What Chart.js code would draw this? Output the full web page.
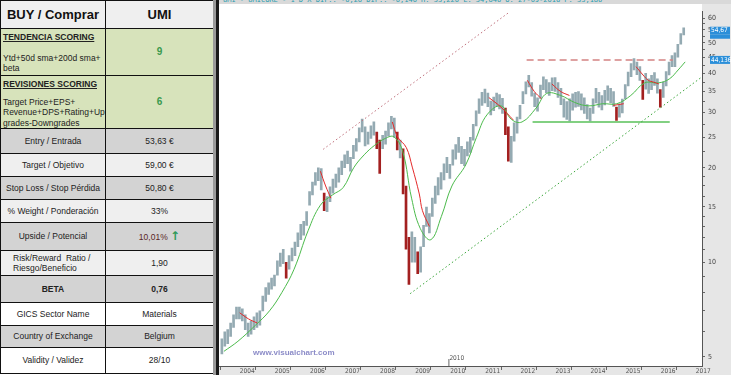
<!DOCTYPE html>
<html>
<head>
<meta charset="utf-8">
<script src="https://cdn.jsdelivr.net/npm/chart.js@4.4.0/dist/chart.umd.min.js"></script>
<style>
  html, body { margin: 0; padding: 0; background: #fff; }
  body { width: 731px; height: 375px; overflow: hidden; position: relative; font-family: "Liberation Sans", Arial, sans-serif; }
  #card { position: absolute; left: 0; top: 0; width: 213px; border-collapse: collapse; table-layout: fixed; }
  #card td { border: 1px solid #111; font-size: 8.5px; color: #222; text-align: center; padding: 0 2px; line-height: 1.2; overflow: hidden; }
  #card td.head { font-size: 13px; font-weight: bold; color: #111; background: #efefef; }
  #card td.score { text-align: left; vertical-align: top; padding-top: 3px; }
  #card td.score b { text-decoration: underline; font-size: 8.5px; display: block; margin-bottom: 8px; }
  #card td.score b.first { margin-bottom: 11px; }
  #card td.num { color: #3a9a4e; font-weight: bold; font-size: 10px; }
  .green { background: #d7e3bb; }
  .grey { background: #d3d3d3; }
  .light { background: #efefef; }
  .white { background: #fff; }
  .bold { font-weight: bold; }
  #sep1 { position: absolute; left: 213px; top: 0; width: 3px; height: 375px; background: #9a9a9a; }
  #sep2 { position: absolute; left: 216px; top: 0; width: 3px; height: 375px; background: #1a1a1a; }
  #topbar { position: absolute; left: 219px; top: 0; width: 512px; height: 4px; background: #d9d9d9; overflow: hidden; }
  #topbar span { position: absolute; left: 4px; top: -4px; font-size: 7px; color: #2a9db0; white-space: nowrap; font-family: "DejaVu Sans Mono", monospace; }
  #wrap { position: absolute; left: 219px; top: 4px; width: 512px; height: 371px; }
</style>
</head>
<body>
<table id="card">
  <colgroup><col style="width:105px"><col style="width:108px"></colgroup>
  <tr style="height:28px"><td class="head">BUY / Comprar</td><td class="head">UMI</td></tr>
  <tr style="height:47px" class="green"><td class="score"><b class="first">TENDENCIA SCORING</b>Ytd+50d sma+200d sma+ beta</td><td class="num">9</td></tr>
  <tr style="height:53px" class="green"><td class="score"><b>REVISIONES SCORING</b>Target Price+EPS+ Revenue+DPS+Rating+Up grades-Downgrades</td><td class="num">6</td></tr>
  <tr style="height:25px" class="grey"><td>Entry / Entrada</td><td>53,63 €</td></tr>
  <tr style="height:23px" class="light"><td>Target / Objetivo</td><td>59,00 €</td></tr>
  <tr style="height:23px" class="grey"><td>Stop Loss / Stop Pérdida</td><td>50,80 €</td></tr>
  <tr style="height:23px" class="light"><td>% Weight / Ponderación</td><td>33%</td></tr>
  <tr style="height:28px" class="grey"><td>Upside / Potencial</td><td><span style="color:#5a2626">10,01%</span> <span style="color:#2f9a5a;font-size:12px;font-weight:bold;font-family:'DejaVu Sans',sans-serif">↑</span></td></tr>
  <tr style="height:25px" class="light"><td style="text-align:left;padding-left:12px">Risk/Reward&nbsp; Ratio /<br>Riesgo/Beneficio</td><td>1,90</td></tr>
  <tr style="height:27px" class="grey"><td class="bold">BETA</td><td class="bold">0,76</td></tr>
  <tr style="height:23px" class="white"><td>GICS Sector Name</td><td>Materials</td></tr>
  <tr style="height:22px" class="grey"><td>Country of Exchange</td><td>Belgium</td></tr>
  <tr style="height:26px" class="white"><td>Validity / Validez</td><td>28/10</td></tr>
</table>
<div id="sep1"></div><div id="sep2"></div>
<div id="topbar"><span>UMI - UMICORE - 1 D X DIF.: -0,26 DIF.: -0,140 H: 55,220 L: 54,640 O: 27-09-2016 P: 55,180</span></div>
<div id="wrap"><canvas id="chart" width="512" height="371"></canvas></div>

<script>
// Monthly price ranges, Jul 2003 .. Sep 2016
const firstYear = 2003;
const firstMonth = 7;

const monthlyLows = [
    5.1, 5.4, 5.5, 5.8, 6.2, 6.6,
    6.6, 6.5, 6.1, 5.8, 5.9, 6.1, 6.2, 6.3, 7.0, 7.5, 7.9, 8.2,
    8.4, 9.1, 9.7, 9.9, 8.9, 9.5, 10.1, 10.5, 11.2, 11.8, 12.2, 13.1,
    15.2, 16.4, 17.6, 18.2, 17.0, 14.6, 14.5, 15.6, 16.6, 17.3, 18.0, 19.0,
    20.0, 20.6, 19.5, 21.4, 22.6, 24.2, 26.0, 23.5, 23.8, 24.8, 25.4, 23.0,
    19.2, 23.0, 23.8, 25.2, 26.6, 25.0, 22.8, 21.5, 16.5, 11.0, 8.5, 10.0,
    10.0, 9.2, 9.3, 11.2, 13.0, 12.4, 14.0, 15.4, 16.4, 17.1, 18.3, 19.3,
    18.5, 20.4, 21.3, 22.4, 20.6, 20.3, 21.8, 22.4, 24.5, 27.2, 29.8, 31.6,
    32.2, 31.3, 29.5, 30.4, 31.4, 30.8, 29.8, 25.5, 21.0, 20.8, 24.3, 25.8,
    28.6, 32.0, 34.4, 36.2, 33.8, 31.3, 30.3, 33.3, 35.5, 34.7, 34.0, 35.2,
    35.0, 33.5, 31.8, 29.0, 28.5, 28.2, 30.5, 31.2, 31.4, 30.6, 29.8, 28.6,
    28.2, 29.8, 32.2, 31.2, 30.6, 31.7, 32.8, 32.2, 31.4, 28.3, 29.0, 29.9,
    33.2, 36.5, 39.0, 41.0, 39.6, 38.0, 33.0, 35.6, 34.5, 35.5, 36.6, 34.6,
    31.2, 33.5, 36.5, 39.5, 42.0, 42.0, 45.0, 49.5, 53.0
];

const monthlyHighs = [
    5.7, 6.0, 6.1, 6.4, 6.8, 7.2,
    7.2, 7.1, 6.8, 6.4, 6.5, 6.7, 6.9, 7.0, 7.8, 8.3, 8.6, 8.9,
    9.1, 10.1, 10.7, 11.0, 10.0, 10.5, 11.1, 11.6, 12.4, 13.2, 13.5, 14.5,
    16.8, 18.0, 19.3, 20.0, 19.9, 16.6, 16.2, 17.4, 18.4, 19.1, 20.0, 21.0,
    22.0, 22.6, 21.6, 23.6, 24.8, 26.8, 28.6, 27.0, 26.0, 27.2, 28.0, 26.0,
    24.5, 25.4, 26.2, 27.8, 29.2, 28.8, 26.0, 24.5, 23.0, 17.5, 12.0, 12.5,
    12.0, 10.8, 11.2, 13.1, 15.0, 14.3, 16.0, 17.5, 18.6, 19.3, 20.6, 21.6,
    20.5, 22.8, 23.7, 25.0, 23.4, 22.9, 24.2, 25.0, 27.5, 30.4, 33.2, 34.8,
    35.6, 34.6, 32.6, 33.6, 34.6, 34.2, 33.3, 31.0, 27.0, 25.2, 27.8, 29.0,
    31.6, 35.0, 37.6, 39.4, 37.4, 34.6, 33.4, 36.7, 39.0, 38.2, 37.4, 38.7,
    38.8, 37.4, 35.8, 33.2, 32.5, 33.2, 34.4, 34.8, 35.0, 34.4, 33.4, 31.8,
    31.0, 33.2, 35.8, 34.8, 34.0, 35.3, 36.5, 35.8, 35.0, 31.2, 32.0, 33.1,
    36.8, 40.4, 43.0, 44.6, 43.4, 42.0, 38.0, 40.0, 38.4, 39.4, 40.2, 38.4,
    35.5, 37.5, 40.5, 43.4, 45.6, 46.5, 49.5, 53.5, 55.8
];

// slow moving average (green)
const greenMaYears = [2003.6, 2004.0, 2004.5, 2004.9, 2005.25, 2005.6, 2006.0, 2006.35, 2006.7, 2007.0, 2007.3, 2007.6, 2007.9, 2008.2, 2008.45, 2008.7, 2008.95, 2009.2, 2009.5, 2009.8, 2010.1, 2010.5, 2010.8, 2011.1, 2011.5, 2011.8, 2012.1, 2012.5, 2012.8, 2013.2, 2013.6, 2014.0, 2014.4, 2014.8, 2015.2, 2015.6, 2016.0, 2016.3, 2016.55, 2016.75];
const greenMaValues = [5.2, 5.6, 6.3, 7.0, 8.0, 9.5, 12.6, 15.2, 16.4, 17.3, 20.0, 22.0, 23.6, 24.8, 25.1, 22.5, 16.0, 12.8, 11.8, 14.0, 17.5, 20.5, 25.0, 29.5, 31.5, 28.5, 28.0, 31.0, 34.5, 34.0, 32.3, 31.5, 32.0, 32.0, 34.0, 37.3, 37.3, 38.4, 41.0, 43.5];

// moving average shown in red while price is below it (null = hidden)
const redMaYears = [2004.05, 2004.3, 2004.55, 2004.6, 2006.35, 2006.5, 2006.65, 2006.7, 2008.4, 2008.55, 2008.8, 2008.97, 2009.17, 2009.26, 2009.46, 2009.5, 2011.15, 2011.5, 2011.85, 2011.9, 2012.25, 2012.45, 2012.65, 2012.7, 2012.95, 2013.2, 2013.45, 2013.5, 2014.7, 2015.0, 2015.1, 2015.35, 2015.55, 2015.7, 2015.85, 2016.0];
const redMaValues = [6.9, 6.6, 6.4, null, 19.5, 17.5, 16.0, null, 28.0, 25.1, 23.2, 20.1, 16.5, 14.6, 13.0, null, 33.5, 31.2, 28.4, null, 38.0, 35.0, 33.2, null, 37.0, 35.0, 34.0, null, 31.6, 32.0, null, 42.0, 39.5, 38.0, 37.5, 37.0];

// trend lines: [year, price] end points
const upperChannel = [[2006.43, 22.9], [2011.74, 62.7]];
const lowerChannel = [[2008.91, 7.94], [2017.26, 39.2]];
const resistance = [[2012.23, 44.1], [2016.4, 44.1]];
const support = [[2012.4, 28.0], [2016.31, 28.0]];

const priceTicks = [5, 10, 15, 20, 25, 30, 35, 40, 45, 50, 55, 60];
const minorTicks = [6, 7, 8, 9, 11, 12, 13, 14, 16.25, 17.5, 18.75, 22.5, 27.5, 32.5, 37.5, 42.5, 47.5, 52.5, 57.5];
const yearTicks = [2004, 2005, 2006, 2007, 2008, 2009, 2010, 2011, 2012, 2013, 2014, 2015, 2016, 2017];
const badges = [54.67, 44.136];

const barData = monthlyLows.map((lo, i) => ({
    x: firstYear + (firstMonth - 1 + i + 0.5) / 12,
    y: [lo, monthlyHighs[i]]
}));
const barColors = monthlyLows.map((lo, i) => {
    if (i === 0) return '#94aab2';
    const mid = (lo + monthlyHighs[i]) / 2;
    const prev = (monthlyLows[i - 1] + monthlyHighs[i - 1]) / 2;
    return mid < prev * 0.92 ? '#a32020' : '#94aab2';
});

function pairs(xs, ys) {
    return xs.map((x, i) => ({ x: x, y: ys[i] }));
}
function seg(p) {
    return p.map(d => ({ x: d[0], y: d[1] }));
}

const panelBg = {
    id: 'panelBg',
    beforeDraw(chart) {
        const { ctx, chartArea, width, height } = chart;
        ctx.save();
        ctx.fillStyle = '#fff';
        ctx.fillRect(0, 0, width, height);
        ctx.fillStyle = '#e6e6e6';
        ctx.fillRect(chartArea.right, 0, width - chartArea.right, height);
        ctx.fillRect(0, chartArea.bottom, width, height - chartArea.bottom);
        ctx.restore();
    },
    afterDraw(chart) {
        const { ctx, chartArea, scales } = chart;
        ctx.save();
        // watermark
        ctx.fillStyle = '#8c8cc8';
        ctx.font = 'bold 8px "Liberation Sans", Arial, sans-serif';
        ctx.textBaseline = 'middle';
        ctx.fillText('www.visualchart.com', 34, chartArea.bottom - 13);
        // small year marker above axis
        const x10 = scales.x.getPixelForValue(2010);
        ctx.strokeStyle = '#666';
        ctx.beginPath();
        ctx.moveTo(x10 + 0.5, chartArea.bottom - 7);
        ctx.lineTo(x10 + 0.5, chartArea.bottom);
        ctx.stroke();
        ctx.fillStyle = '#555';
        ctx.font = '6.5px "Liberation Sans Narrow", "DejaVu Sans Condensed", sans-serif';
        ctx.fillText('2010', x10 + 1, chartArea.bottom - 8);
        // price badges
        badges.forEach((v, i) => {
            const y = scales.y.getPixelForValue(v);
            ctx.fillStyle = '#2b8fd9';
            ctx.fillRect(chartArea.right + 8, y - 4, 20, 8);
            if (i === 0) ctx.fillRect(chartArea.right + 8, y + 4, 20, 4);
            ctx.fillStyle = '#fff';
            ctx.font = '6.5px "Liberation Sans Narrow", "DejaVu Sans Condensed", sans-serif';
            ctx.fillText(String(v).replace('.', ','), chartArea.right + 9, y);
        });
        ctx.restore();
    }
};

const lineBase = { type: 'line', pointRadius: 0, borderWidth: 1, fill: false };

new Chart(document.getElementById('chart'), {
    type: 'bar',
    data: {
        datasets: [
            { type: 'bar', data: barData, backgroundColor: barColors, barThickness: 2, grouped: false, order: 5 },
            Object.assign({}, lineBase, { data: pairs(greenMaYears, greenMaValues), borderColor: '#4cbb4c', tension: 0.4, order: 2 }),
            Object.assign({}, lineBase, { data: pairs(redMaYears, redMaValues), borderColor: '#e42a2a', tension: 0.4, spanGaps: false, order: 1 }),
            Object.assign({}, lineBase, { data: seg(upperChannel), borderColor: '#c0707c', borderDash: [1.5, 2.5], order: 3 }),
            Object.assign({}, lineBase, { data: seg(lowerChannel), borderColor: '#3aa53a', borderDash: [1.5, 2.5], order: 3 }),
            Object.assign({}, lineBase, { data: seg(resistance), borderColor: '#d48282', borderWidth: 1.5, borderDash: [7, 4], order: 3 }),
            Object.assign({}, lineBase, { data: seg(support), borderColor: '#58c058', borderWidth: 1.5, order: 3 })
        ]
    },
    options: {
        responsive: false,
        animation: false,
        layout: { padding: 0 },
        plugins: { legend: { display: false }, tooltip: { enabled: false } },
        scales: {
            x: {
                type: 'linear',
                offset: false,
                min: 2003.46,
                max: 2017.23,
                afterBuildTicks: s => { s.ticks = yearTicks.map(v => ({ value: v })); },
                afterFit: s => { s.height = 9; },
                border: { display: true, color: '#555' },
                grid: { drawOnChartArea: false, tickLength: 4, color: '#666' },
                ticks: {
                    autoSkip: false, maxRotation: 0, align: 'start', padding: -3,
                    color: '#555',
                    font: { size: 6.5, family: '"Liberation Sans Narrow", "DejaVu Sans Condensed", sans-serif' },
                    callback: v => ' ' + v
                }
            },
            y: {
                type: 'logarithmic',
                position: 'right',
                min: 4.67,
                max: 63.1,
                afterBuildTicks: s => {
                    s.ticks = priceTicks.concat(minorTicks).sort((a, b) => a - b).map(v => ({ value: v }));
                },
                afterFit: s => { s.width = 29; },
                border: { display: true, color: '#555' },
                grid: { drawOnChartArea: false, tickLength: 3, color: '#666' },
                ticks: {
                    autoSkip: false, padding: 3,
                    color: '#444',
                    font: { size: 7, family: '"Liberation Sans Narrow", "DejaVu Sans Condensed", sans-serif' },
                    callback: v => priceTicks.includes(v) ? String(v) : ''
                }
            }
        }
    },
    plugins: [panelBg]
});
</script>
</body>
</html>
